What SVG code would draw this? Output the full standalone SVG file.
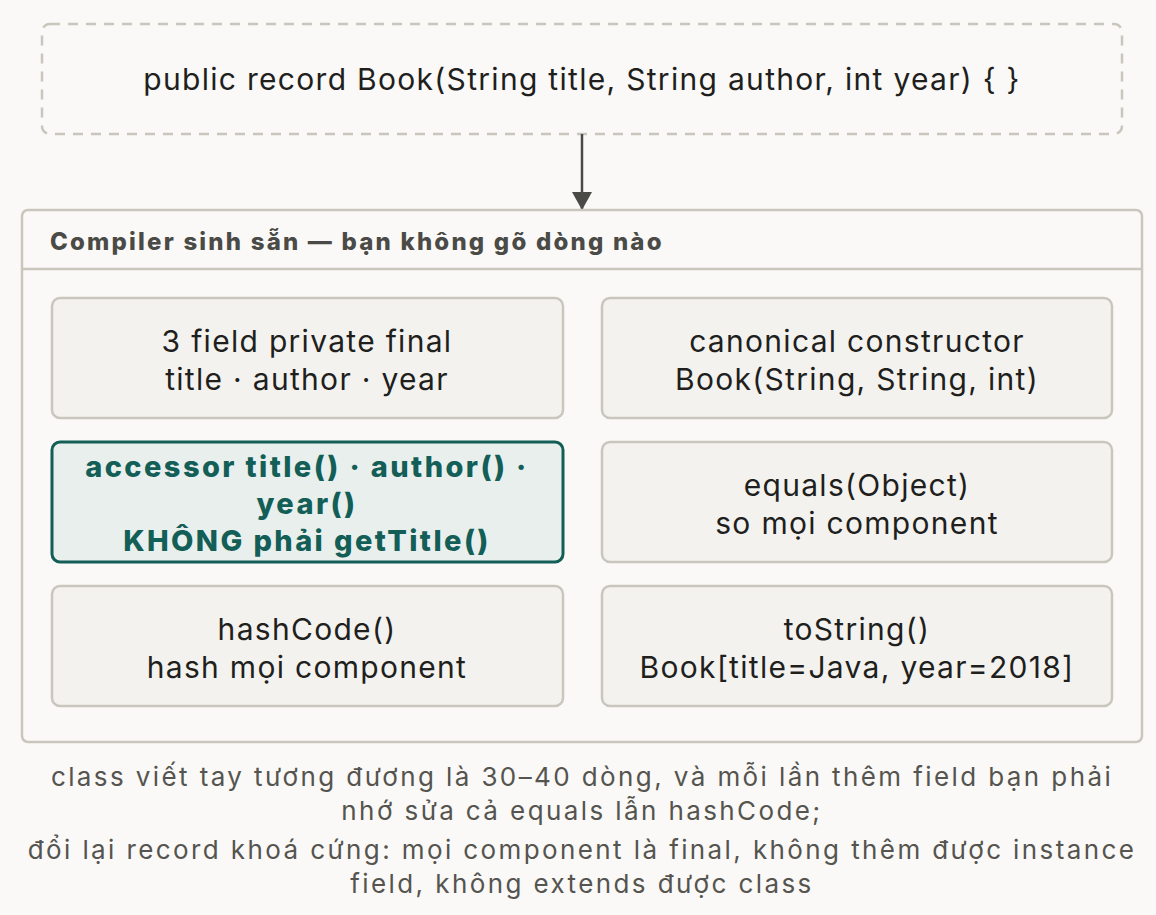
<svg xmlns="http://www.w3.org/2000/svg" width="1156" height="915" viewBox="0 0 1156 915">
<defs>
<marker id="ah" markerWidth="18" markerHeight="20" refX="18" refY="10" orient="auto" markerUnits="userSpaceOnUse"><path d="M0,0 L18,10 L0,20 z" fill="#4a4a46"/></marker>
<style>
text{font-family:Inter,"Noto Sans",sans-serif;text-anchor:middle;}
.b{fill:#f3f2ef;stroke:#c9c6bd;stroke-width:2.5;}
.t{font-size:30px;letter-spacing:1.3px;fill:#1f1f1d;}
.h{fill:#e9efed;stroke:#135e57;stroke-width:3;}
.ht{font-size:29px;letter-spacing:2.4px;fill:#135e57;font-weight:800;}
.n{font-size:26px;letter-spacing:2.4px;fill:#55544f;}
</style>
</defs>
<rect width="1156" height="915" fill="#faf9f7"/>
<g id="source"><rect x="42" y="24" width="1080" height="110" rx="8" fill="#faf9f7" stroke="#c9c6bd" stroke-width="2.5" stroke-dasharray="10 8"/>
<text class="t" x="582" y="90">public record Book(String title, String author, int year) { }</text></g>
<g id="connectors"><line x1="582" y1="134" x2="582" y2="210" stroke="#4a4a46" stroke-width="2.5" marker-end="url(#ah)"/></g>
<g id="container"><rect x="22" y="210" width="1120" height="532" rx="6" fill="#faf9f7" stroke="#c9c6bd" stroke-width="2.5"/>
<line x1="22" y1="269" x2="1142" y2="269" stroke="#c9c6bd" stroke-width="2.5"/>
<text x="50" y="250" style="text-anchor:start;font-size:24px;letter-spacing:2.2px;font-weight:800;fill:#4a4a46">Compiler sinh sẵn — bạn không gõ dòng nào</text></g>
<g id="fields"><rect class="b" x="52" y="298" width="511" height="120" rx="8"/><text class="t" x="307" y="352">3 field private final</text><text class="t" x="307" y="390">title · author · year</text></g>
<g id="ctor"><rect class="b" x="602" y="298" width="510" height="120" rx="8"/><text class="t" x="857" y="352">canonical constructor</text><text class="t" x="857" y="390">Book(String, String, int)</text></g>
<g id="accessor"><rect class="h" x="52" y="442" width="511" height="120" rx="8"/><text class="ht" x="307" y="477">accessor title() · author() ·</text><text class="ht" x="307" y="514">year()</text><text class="ht" x="307" y="551">KHÔNG phải getTitle()</text></g>
<g id="equals"><rect class="b" x="602" y="442" width="510" height="120" rx="8"/><text class="t" x="857" y="496">equals(Object)</text><text class="t" x="857" y="534">so mọi component</text></g>
<g id="hash"><rect class="b" x="52" y="586" width="511" height="120" rx="8"/><text class="t" x="307" y="640">hashCode()</text><text class="t" x="307" y="678">hash mọi component</text></g>
<g id="tostring"><rect class="b" x="602" y="586" width="510" height="120" rx="8"/><text class="t" x="857" y="640">toString()</text><text class="t" x="857" y="678">Book[title=Java, year=2018]</text></g>
<g id="note">
<text class="n" x="582" y="786">class viết tay tương đương là 30–40 dòng, và mỗi lần thêm field bạn phải</text>
<text class="n" x="582" y="820">nhớ sửa cả equals lẫn hashCode;</text>
<text class="n" x="582" y="859">đổi lại record khoá cứng: mọi component là final, không thêm được instance</text>
<text class="n" x="582" y="893">field, không extends được class</text></g>
</svg>
